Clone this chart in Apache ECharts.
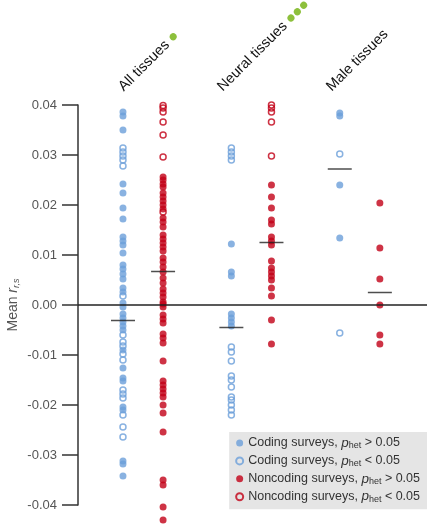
<!DOCTYPE html>
<html><head><meta charset="utf-8">
<script src="https://cdn.jsdelivr.net/npm/echarts@6/dist/echarts.min.js"></script>
<style>html,body{margin:0;padding:0;background:#fff}#c{width:427px;height:524px}</style>
</head><body><div id="c"></div>
<script>
// ---- data ----
const groups = ['All tissues', 'Neural tissues', 'Male tissues'];
const significanceDots = [1, 3, 0];
const yTicks = [-0.04, -0.03, -0.02, -0.01, 0.00, 0.01, 0.02, 0.03, 0.04];

const allCodingFilled = [0.0386, 0.0378, 0.035, 0.0242, 0.0224, 0.0194, 0.0172, 0.0136, 0.0128, 0.012, 0.0104, 0.008, 0.0072, 0.0062, 0.0052, 0.0034, 0.0026, 0.0004, -0.0004, -0.0018, -0.0026, -0.0034, -0.0042, -0.005, -0.009, -0.0126, -0.0146, -0.0152, -0.0204, -0.021, -0.0312, -0.0318, -0.0342];
const allCodingHollow = [0.0314, 0.0306, 0.0298, 0.029, 0.0278, 0.0018, -0.006, -0.0074, -0.0082, -0.0098, -0.011, -0.017, -0.0178, -0.0186, -0.022, -0.0244, -0.0264];
const allNoncodingFilled = [0.0256, 0.025, 0.0242, 0.0236, 0.0224, 0.0216, 0.0208, 0.02, 0.0192, 0.0174, 0.0166, 0.0156, 0.014, 0.0132, 0.0124, 0.0116, 0.0108, 0.0094, 0.0086, 0.0076, 0.0066, 0.0054, 0.0044, 0.0032, 0.0024, 0.0016, 0.0006, 0.0002, -0.0004, -0.002, -0.0028, -0.0036, -0.0058, -0.0066, -0.0076, -0.0112, -0.0152, -0.016, -0.0168, -0.0176, -0.0184, -0.02, -0.0216, -0.0254, -0.035, -0.036, -0.0404, -0.043];
const allNoncodingHollow = [0.0399, 0.0394, 0.0386, 0.0366, 0.034, 0.0296, 0.0186];

const neuralCodingFilled = [0.0122, 0.0066, 0.0058, -0.0018, -0.0026, -0.0034, -0.0042];
const neuralCodingHollow = [0.0314, 0.0306, 0.0298, 0.029, -0.0084, -0.0094, -0.0112, -0.0142, -0.015, -0.0164, -0.0184, -0.019, -0.02, -0.021, -0.022];
const neuralNoncodingFilled = [0.024, 0.0216, 0.0194, 0.017, 0.0162, 0.0136, 0.0128, 0.012, 0.0088, 0.0074, 0.0066, 0.0058, 0.005, 0.0034, 0.0018, -0.003, -0.0078];
const neuralNoncodingHollow = [0.04, 0.0394, 0.0386, 0.0366, 0.0298];

const maleCodingFilled = [0.0384, 0.0378, 0.024, 0.0134];
const maleCodingHollow = [0.0302, -0.0056];
const maleNoncodingFilled = [0.0204, 0.0114, 0.0052, 0.0, -0.006, -0.0078];
const maleNoncodingHollow = [];

const codingMeans = [-0.0031, -0.0045, 0.0272];
const noncodingMeans = [0.0067, 0.0125, 0.0025];

const seriesNames = [
  'Coding surveys, p_het > 0.05',
  'Coding surveys, p_het < 0.05',
  'Noncoding surveys, p_het > 0.05',
  'Noncoding surveys, p_het < 0.05'
];

// ---- layout / style ----
const FONT = '"Liberation Sans", Arial, Helvetica, sans-serif';
const BLUE = '#6b9fd9';
const RED = '#c20016';
const GREEN = '#8dc03c';
const OFF = 0.185;
const labelOffsets = [-0.203, -0.29, -0.285];

function pts(arrs, side) {
  const out = [];
  arrs.forEach((a, i) => a.forEach(v => out.push([i + 1 + side * OFF, v])));
  return out;
}
const labelPos = groups.map((g, i) => i + 1 + labelOffsets[i]);

const chart = echarts.init(document.getElementById('c'), null, {renderer: 'canvas'});

const filledStyle = c => ({color: c});
const hollowStyle = c => ({color: 'rgba(255,255,255,0)', borderColor: c, borderWidth: 1.5});

chart.setOption({
  animation: false,
  backgroundColor: '#fff',
  textStyle: {fontFamily: FONT},
  grid: {left: 78, right: 0, top: 105, height: 400, containLabel: false, outerBoundsMode: 'none'},
  xAxis: {
    type: 'value', position: 'top', min: 0.4, max: 3.62,
    axisLine: {show: false}, axisTick: {show: false}, splitLine: {show: false},
    axisLabel: {
      customValues: labelPos,
      rotate: 45, margin: 16,
      formatter: function (v) {
        const i = labelPos.findIndex(p => Math.abs(p - v) < 1e-6);
        if (i < 0) return '';
        let s = '{t|' + groups[i] + '}';
        const n = significanceDots[i];
        if (n > 0) {
          s += '{sp|}';
          const d = [];
          for (let k = 0; k < n; k++) d.push('{g|}');
          s += d.join('{s2|}');
        }
        return s;
      },
      rich: {
        t: {fontSize: 14.5, color: '#111', fontFamily: FONT},
        sp: {width: 5},
        g: {width: 7, height: 7, backgroundColor: GREEN, borderRadius: 3.5},
        s2: {width: 2}
      }
    }
  },
  yAxis: {
    type: 'value', min: -0.04, max: 0.04, interval: 0.01,
    axisLine: {show: true, lineStyle: {color: '#333', width: 1.5}},
    axisTick: {show: true, length: 16, lineStyle: {color: '#333', width: 1.5}},
    splitLine: {show: false},
    axisLabel: {
      margin: 21, color: '#555', fontSize: 13, fontFamily: FONT,
      formatter: v => (Math.abs(v) < 1e-9 ? 0 : v).toFixed(2)
    },
    name: 'Mean {i|r}{s|r,s}',
    nameLocation: 'middle', nameGap: 57, nameMoveOverlap: false,
    nameTextStyle: {
      fontSize: 14, color: '#555', fontFamily: FONT,
      rich: {
        i: {fontSize: 14, fontStyle: 'italic', color: '#555', fontFamily: FONT},
        s: {fontSize: 9, fontStyle: 'italic', color: '#555', fontFamily: FONT, padding: [7, 0, 0, 0]}
      }
    }
  },
  legend: {
    orient: 'vertical', top: 432, right: 0,
    backgroundColor: '#e5e5e5', padding: [4, 7, 5, 6],
    itemWidth: 7, itemHeight: 7, itemGap: 3.4,
    data: seriesNames,
    formatter: n => n.replace('p_het', '{i|p}{s|het}'),
    textStyle: {
      fontSize: 12.5, color: '#333', fontFamily: FONT,
      rich: {
        i: {fontSize: 13.5, fontStyle: 'italic', color: '#333', fontFamily: FONT},
        s: {fontSize: 9, color: '#333', fontFamily: FONT, padding: [6, 0, 0, 0]}
      }
    }
  },
  series: [
    {name: seriesNames[0], type: 'scatter', clip: false, symbol: 'circle', symbolSize: 7,
     itemStyle: filledStyle(BLUE),
     data: pts([allCodingFilled, neuralCodingFilled, maleCodingFilled], -1)},
    {name: seriesNames[1], type: 'scatter', clip: false, symbol: 'circle', symbolSize: 6,
     itemStyle: hollowStyle(BLUE),
     data: pts([allCodingHollow, neuralCodingHollow, maleCodingHollow], -1)},
    {name: seriesNames[2], type: 'scatter', clip: false, symbol: 'circle', symbolSize: 7,
     itemStyle: filledStyle(RED),
     data: pts([allNoncodingFilled, neuralNoncodingFilled, maleNoncodingFilled], 1)},
    {name: seriesNames[3], type: 'scatter', clip: false, symbol: 'circle', symbolSize: 6,
     itemStyle: hollowStyle(RED),
     data: pts([allNoncodingHollow, neuralNoncodingHollow, maleNoncodingHollow], 1)},
    {name: 'means', type: 'scatter', clip: false, symbol: 'rect', symbolSize: [24, 1.5],
     z: 5, silent: true, itemStyle: {color: '#222'},
     data: pts(codingMeans.map(v => [v]), -1).concat(pts(noncodingMeans.map(v => [v]), 1)),
     markLine: {
       silent: true, symbol: ['none', 'none'], label: {show: false},
       lineStyle: {color: '#222', width: 1.5, type: 'solid'},
       data: [{yAxis: 0}]
     }}
  ]
});
</script>
</body></html>
